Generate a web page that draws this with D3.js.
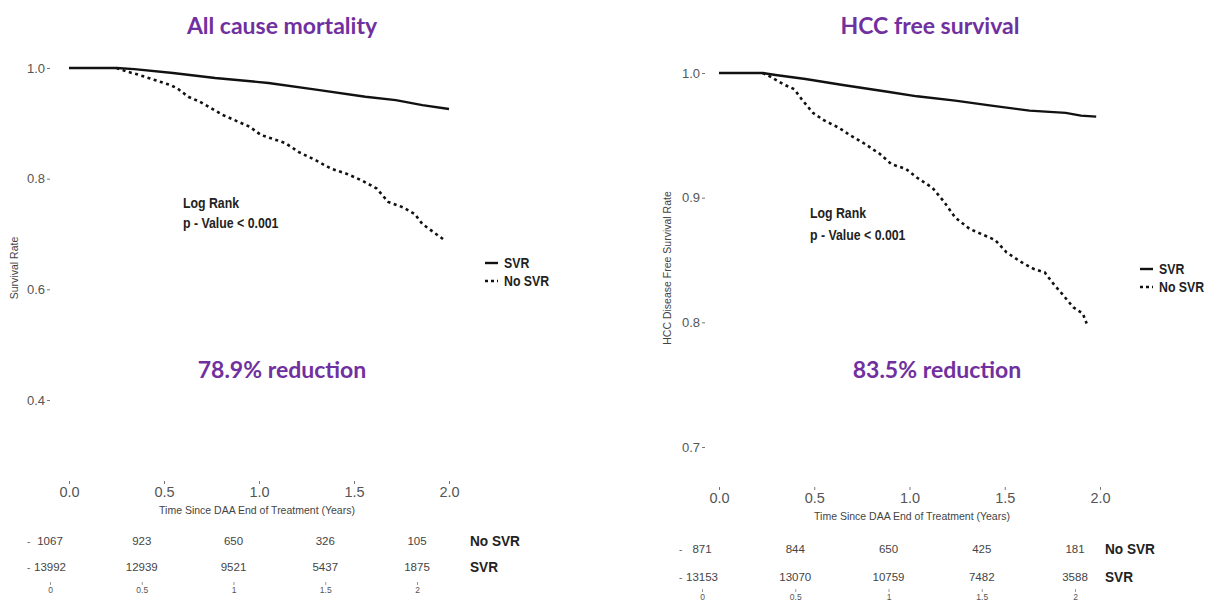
<!DOCTYPE html>
<html><head><meta charset="utf-8">
<script src="https://cdn.jsdelivr.net/npm/d3@7"></script>
<style>
body{margin:0;background:#fff;}
svg{display:block;}
.tick text{fill:#555;}
</style></head><body>
<svg id="c" width="1205" height="602"></svg>
<script>
// ---------- DATA ----------
const timeTicks = [0, 0.5, 1, 1.5, 2];
const seriesNames = ["SVR", "No SVR"];

// All cause mortality
const mortSVR = [[0,1],[0.25,1],[0.344,0.998],[0.547,0.991],[0.769,0.982],[1.05,0.973],[1.30,0.961],[1.56,0.948],[1.72,0.942],[1.86,0.933],[2.0,0.926]];
const mortNoSVR = [[0.25,1],[0.30,0.994],[0.364,0.988],[0.445,0.979],[0.526,0.970],[0.567,0.964],[0.628,0.948],[0.688,0.939],[0.749,0.927],[0.81,0.915],[0.87,0.906],[0.95,0.894],[1.01,0.879],[1.09,0.870],[1.14,0.864],[1.21,0.848],[1.30,0.833],[1.38,0.818],[1.46,0.809],[1.54,0.797],[1.62,0.782],[1.68,0.758],[1.76,0.748],[1.82,0.736],[1.86,0.718],[1.92,0.703],[1.98,0.688]];
const mortYTicks = [0.4, 0.6, 0.8, 1.0];
const mortRiskNoSVR = [1067, 923, 650, 326, 105];
const mortRiskSVR = [13992, 12939, 9521, 5437, 1875];

// HCC free survival
const hccSVR = [[0,1],[0.229,1],[0.297,0.9984],[0.454,0.9952],[0.65,0.9904],[0.885,0.985],[1.04,0.9813],[1.24,0.9778],[1.43,0.9738],[1.63,0.9698],[1.82,0.968],[1.90,0.9658],[1.98,0.965]];
const hccNoSVR = [[0.229,1],[0.258,0.998],[0.337,0.991],[0.395,0.987],[0.434,0.979],[0.493,0.968],[0.552,0.962],[0.63,0.956],[0.689,0.950],[0.767,0.943],[0.845,0.935],[0.904,0.927],[0.982,0.923],[1.04,0.916],[1.12,0.908],[1.18,0.897],[1.24,0.884],[1.315,0.875],[1.39,0.870],[1.45,0.866],[1.51,0.856],[1.59,0.848],[1.65,0.843],[1.71,0.840],[1.755,0.831],[1.80,0.823],[1.86,0.812],[1.91,0.807],[1.93,0.799]];
const hccYTicks = [0.7, 0.8, 0.9, 1.0];
const hccRiskNoSVR = [871, 844, 650, 425, 181];
const hccRiskSVR = [13153, 13070, 10759, 7482, 3588];

// ---------- DRAW ----------
const svg = d3.select("#c");
const purple = "#7030a0";
const sans = "'Liberation Sans',Arial,sans-serif";

function narrowText(g, x, y, txt, size){
  return g.append("text").attr("transform",`translate(${x},${y}) scale(0.88,1)`)
    .style("font-family",sans).style("font-weight","bold").style("font-size",size+"px")
    .attr("fill","#222").text(txt);
}

function panel(o){
  const g = svg.append("g");
  const x = d3.scaleLinear().domain([0,2]).range([o.x0, o.x1]);
  const y = d3.scaleLinear().domain(o.yDom).range(o.yRange);

  g.append("text").attr("x", o.titleX).attr("y", 34).attr("text-anchor","middle")
    .style("font-family","Lato,'Open Sans',sans-serif").style("font-weight","bold")
    .style("font-size","23px").attr("fill", purple).text(o.title);

  // y axis
  const ya = g.append("g").attr("transform",`translate(${o.yAxisX},0)`)
    .call(d3.axisLeft(y).tickValues(o.yTicks).tickSize(3).tickPadding(2).tickFormat(d3.format(".1f")));
  ya.select(".domain").remove();
  ya.selectAll(".tick line").attr("stroke","#777");
  ya.selectAll("text").style("font-family",sans).style("font-size","13px");

  g.append("text").attr("transform",`translate(${o.yLabX},${o.yLabY}) rotate(-90)`)
    .attr("text-anchor","middle").style("font-family",sans)
    .style("font-size","10.5px").attr("fill","#444").text(o.yLabel);

  // x axis
  const xa = g.append("g").attr("transform",`translate(0,${o.xAxisY})`)
    .call(d3.axisBottom(x).tickValues(timeTicks).tickSize(3).tickPadding(3).tickFormat(d3.format(".1f")));
  xa.select(".domain").remove();
  xa.selectAll(".tick line").attr("stroke","#777");
  xa.selectAll("text").style("font-family",sans).style("font-size","14.5px");

  g.append("text").attr("x", o.xLabX).attr("y", o.xAxisY + 33).attr("text-anchor","middle")
    .style("font-family",sans).style("font-size","10.5px")
    .attr("fill","#444").text("Time Since DAA End of Treatment (Years)");

  // curves
  const line = d3.line().x(d=>x(d[0])).y(d=>y(d[1]));
  g.append("path").datum(o.svr).attr("d",line).attr("fill","none")
    .attr("stroke","#111").attr("stroke-width",2.4);
  g.append("path").datum(o.nosvr).attr("d",line).attr("fill","none")
    .attr("stroke","#111").attr("stroke-width",2.6).attr("stroke-dasharray","3,3.5");

  // log rank
  narrowText(g, o.lrX, o.lrY, "Log Rank", 14);
  narrowText(g, o.lrX, o.lrY + o.lrGap, "p - Value < 0.001", 14);

  // legend
  seriesNames.forEach((n,i)=>{
    const ly = o.legY + i*18;
    g.append("line").attr("x1",o.legX).attr("x2",o.legX+13).attr("y1",ly).attr("y2",ly)
      .attr("stroke","#111").attr("stroke-width",2.4)
      .attr("stroke-dasharray", i ? "3,3" : null);
    narrowText(g, o.legX+19, ly+5, n, 14);
  });

  // reduction
  g.append("text").attr("x", o.redX).attr("y", 378).attr("text-anchor","middle")
    .style("font-family","Lato,'Open Sans',sans-serif").style("font-weight","bold")
    .style("font-size","23px").attr("fill", purple).text(o.red);

  // risk table
  const xr = d3.scaleLinear().domain([0,2]).range([o.r0, o.r1]);
  const rows = [[o.riskNo,"No SVR"],[o.riskSvr,"SVR"]];
  rows.forEach((r,i)=>{
    const ry = o.rowY[i];
    g.append("text").attr("x", o.r0 - 23).attr("y", ry+4).attr("fill","#666")
      .style("font-size","10px").style("font-family",sans).text("-");
    g.selectAll(null).data(r[0]).enter().append("text")
      .attr("x",(d,j)=>xr(timeTicks[j])).attr("y", ry+4).attr("text-anchor","middle")
      .style("font-family",sans).style("font-size","11.5px")
      .attr("fill","#444").text(d=>d);
    narrowText(g, o.rowLabX, ry+5, r[1], 15.5);
  });
  const ra = g.append("g").attr("transform",`translate(0,${o.rAxisY})`)
    .call(d3.axisBottom(xr).tickValues(timeTicks).tickSize(3).tickPadding(2).tickFormat(d=>String(d)));
  ra.select(".domain").remove();
  ra.selectAll(".tick line").attr("stroke","#999");
  ra.selectAll("text").style("font-family",sans).style("font-size","8.5px").attr("fill","#777");
}

panel({
  title:"All cause mortality", titleX:282,
  x0:69, x1:449, yDom:[0.4,1.0], yRange:[400,68], yTicks:mortYTicks, yAxisX:50,
  yLabel:"Survival Rate", yLabX:18, yLabY:268,
  xAxisY:481, xLabX:257,
  svr:mortSVR, nosvr:mortNoSVR,
  lrX:183, lrY:208, lrGap:20,
  legX:485, legY:263,
  red:"78.9% reduction", redX:282,
  riskNo:mortRiskNoSVR, riskSvr:mortRiskSVR, r0:50, r1:417, rowY:[541,567], rowLabX:470, rAxisY:582
});

panel({
  title:"HCC free survival", titleX:930,
  x0:719, x1:1100, yDom:[0.7,1.0], yRange:[447,73], yTicks:hccYTicks, yAxisX:705,
  yLabel:"HCC Disease Free Survival Rate", yLabX:671, yLabY:268,
  xAxisY:487, xLabX:912,
  svr:hccSVR, nosvr:hccNoSVR,
  lrX:810, lrY:218, lrGap:22,
  legX:1140, legY:269,
  red:"83.5% reduction", redX:937,
  riskNo:hccRiskNoSVR, riskSvr:hccRiskSVR, r0:702, r1:1075, rowY:[549,577], rowLabX:1105, rAxisY:589
});
</script></body></html>
